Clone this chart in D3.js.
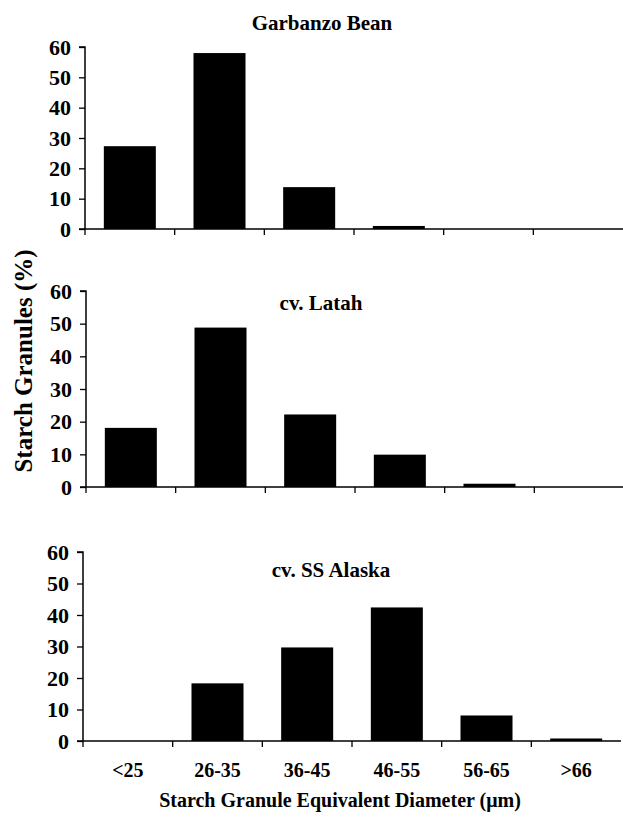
<!DOCTYPE html>
<html>
<head>
<meta charset="utf-8">
<script src="https://cdn.jsdelivr.net/npm/d3@7"></script>
<style>
  html, body { margin: 0; padding: 0; background: #fff; }
  svg text { font-family: "Liberation Serif", "Times New Roman", serif; font-weight: bold; fill: #000; }
</style>
</head>
<body>
<div id="chart"></div>
<script>
// size classes (equivalent diameter, µm)
const categories = ["<25", "26-35", "36-45", "46-55", "56-65", ">66"];

// percentage of starch granules in each class
const garbanzo = [27.3, 58, 13.8, 1, 0, 0];
const latah = [18.1, 48.8, 22.2, 9.9, 1, 0];
const ssAlaska = [0, 18.3, 29.7, 42.4, 8.1, 0.8];

const yTicks = [0, 10, 20, 30, 40, 50, 60];
const panelTitles = ["Garbanzo Bean", "cv. Latah", "cv. SS Alaska"];

const width = 623;
const height = 819;

// where each panel sits on the page
const panels = [
    { values: garbanzo, title: panelTitles[0], left: 85, top: 47, bottom: 229, titleX: 322, titleY: 30 },
    { values: latah,    title: panelTitles[1], left: 86, top: 291, bottom: 487, titleX: 321, titleY: 310 },
    { values: ssAlaska, title: panelTitles[2], left: 83, top: 552, bottom: 741, titleX: 331, titleY: 577 }
];
const plotWidth = 538;

const svg = d3.select("#chart")
    .append("svg")
    .attr("width", width)
    .attr("height", height);

panels.forEach((p, idx) => {
    const x = d3.scaleBand()
        .domain(categories)
        .range([p.left, p.left + plotWidth])
        .paddingInner(0.42)
        .paddingOuter(0.21);

    const y = d3.scaleLinear()
        .domain([0, 60])
        .range([p.bottom, p.top]);

    const g = svg.append("g");

    // bars
    g.selectAll("rect")
        .data(p.values)
        .enter()
        .append("rect")
        .attr("x", (d, i) => x(categories[i]))
        .attr("width", x.bandwidth())
        .attr("y", d => y(d))
        .attr("height", d => y(0) - y(d))
        .attr("fill", "#000");

    // y axis
    const yAxis = g.append("g")
        .attr("transform", `translate(${p.left},0)`)
        .call(d3.axisLeft(y).tickValues(yTicks).tickSize(6).tickPadding(8).tickFormat(d3.format("d")));
    yAxis.select(".domain").attr("stroke-width", 1.5).attr("d", `M-6,${y(60)}H0V${y(0)}`);
    yAxis.selectAll(".tick line").attr("stroke-width", 1.3);
    yAxis.selectAll("text")
        .style("font-size", "22px")
        .style("font-family", "'Liberation Serif', 'Times New Roman', serif")
        .style("font-weight", "bold");

    // x axis line, ticks at the class boundaries
    g.append("line")
        .attr("x1", p.left - 6)
        .attr("x2", p.left + plotWidth)
        .attr("y1", y(0))
        .attr("y2", y(0))
        .attr("stroke", "#000")
        .attr("stroke-width", 1.5);

    const bounds = d3.range(categories.length).map(i => p.left + i * x.step());
    g.selectAll(".xtick")
        .data(bounds)
        .enter()
        .append("line")
        .attr("class", "xtick")
        .attr("x1", d => d)
        .attr("x2", d => d)
        .attr("y1", y(0))
        .attr("y2", y(0) + 6)
        .attr("stroke", "#000")
        .attr("stroke-width", 1.3);

    // category labels only under the bottom panel
    if (idx === panels.length - 1) {
        g.selectAll(".xlabel")
            .data(categories)
            .enter()
            .append("text")
            .attr("class", "xlabel")
            .attr("x", d => x(d) + x.bandwidth() / 2)
            .attr("y", 777)
            .attr("text-anchor", "middle")
            .style("font-size", "20px")
            .text(d => d);
    }

    // panel title
    g.append("text")
        .attr("x", p.titleX)
        .attr("y", p.titleY)
        .attr("text-anchor", "middle")
        .style("font-size", "21px")
        .text(p.title);
});

// axis titles
svg.append("text")
    .attr("transform", "translate(32,361) rotate(-90)")
    .attr("text-anchor", "middle")
    .style("font-size", "25px")
    .text("Starch Granules (%)");

svg.append("text")
    .attr("x", 340)
    .attr("y", 807)
    .attr("text-anchor", "middle")
    .style("font-size", "20px")
    .text("Starch Granule Equivalent Diameter (\u03bcm)");
</script>
</body>
</html>
